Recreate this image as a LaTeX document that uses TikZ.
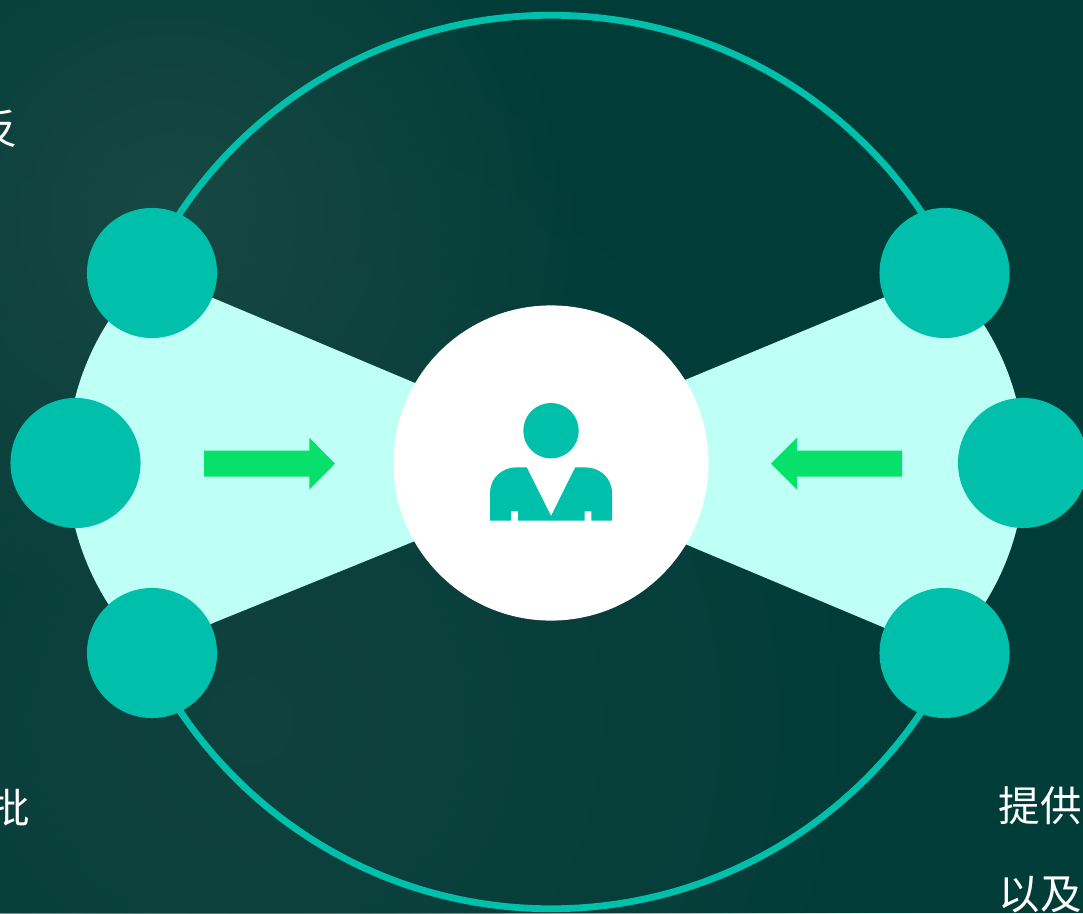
\documentclass[tikz,border=0pt]{standalone}
\usepackage{fontspec}
\newfontfamily\cjk{Noto Sans CJK SC}
\usetikzlibrary{positioning, fadings}

\definecolor{bgdark}{HTML}{003C38}
\definecolor{bgsoft}{HTML}{184843}
\definecolor{bgmid}{HTML}{10423E}
\definecolor{teal}{HTML}{00C0AB}
\definecolor{pale}{HTML}{BEFFF6}
\definecolor{flash}{HTML}{07E06A}

\tikzfading[name=softblob, inner color=transparent!0, outer color=transparent!100]

\tikzset{
    bubble/.style={circle, fill=teal, minimum size=1.30cm, inner sep=0pt},
    hub/.style={circle, fill=white, minimum size=3.15cm, inner sep=0pt},
    ring/.style={circle, draw=teal, line width=0.068cm, minimum size=8.93cm, inner sep=0pt},
    caption/.style={anchor=west, inner sep=0pt, text=white, font=\cjk\fontsize{11.8pt}{11.8pt}\selectfont}
}

\begin{document}
\begin{tikzpicture}[x=0.01cm,y=-0.01cm]
    \useasboundingbox (0,0) rectangle (1083,913);
    % Background
    \clip (0,0) rectangle (1083,913);
    \fill[bgdark] (0,0) rectangle (1083,913);
    \fill[bgmid, path fading=softblob] (250,720) circle (7cm);
    \fill[bgsoft, path fading=softblob] (170,210) circle (4.2cm);

    % Outer ring
    \node[ring] (outer) at (551,462) {};

    % Pale wings
    \fill[pale] (108,322) arc[start angle=-147.5, end angle=-212.5, radius=262]
        -- (152,653) -- (213,623) -- (415,541) -- (551,541) -- (551,383) -- (415,383) -- (213,298) -- (152,273) -- cycle;
    \fill[pale] (984,325) arc[start angle=-32.5, end angle=32.5, radius=260]
        -- (945,653) -- (885,628) -- (685,544) -- (551,544) -- (551,380) -- (685,380) -- (885,297) -- (945,273) -- cycle;

    % Hub and bubbles
    \node[hub] (hub) at (551,463) {};
    \node[bubble] (leftTop) at (152,273) {};
    \node[bubble] (leftMid) at (75.5,463) {};
    \node[bubble] (leftBot) at (152,653) {};
    \node[bubble] (rightTop) at (944.5,273) {};
    \node[bubble] (rightMid) at (1023,463) {};
    \node[bubble] (rightBot) at (944.5,653) {};

    % Arrows
    \fill[flash] (204,450.7) -- (309.3,450.7) -- (309.3,437.7) -- (335,463.7) -- (309.3,489.7) -- (309.3,476.7) -- (204,476.7) -- cycle;
    \fill[flash] (902,450.7) -- (797,450.7) -- (797,437.7) -- (771,463.7) -- (797,489.7) -- (797,476.7) -- (902,476.7) -- cycle;

    % Person icon
    \fill[teal] (551,430.7) circle (0.277cm);
    \fill[teal] (490,520.7) -- (490,493) .. controls (490,478) and (502,467.3) .. (516.7,467.3)
        -- (526.7,467.3) -- (551,516) -- (575.3,467.3) -- (585,467.3)
        .. controls (600,467.3) and (612,478) .. (612,493.3) -- (612,520.7)
        -- (591.3,520.7) -- (591.3,511.3) -- (584.7,511.3) -- (584.7,520.7)
        -- (518,520.7) -- (518,511.3) -- (511,511.3) -- (511,520.7) -- cycle;

    % Cut-off text
    \node[caption] (textA) at (-24,129) {反};
    \node[caption] (textB) at (-12,808) {批};
    \node[caption] (textC) at (998,806) {提供专};
    \node[caption] (textD) at (998,895) {以及};
\end{tikzpicture}
\end{document}
